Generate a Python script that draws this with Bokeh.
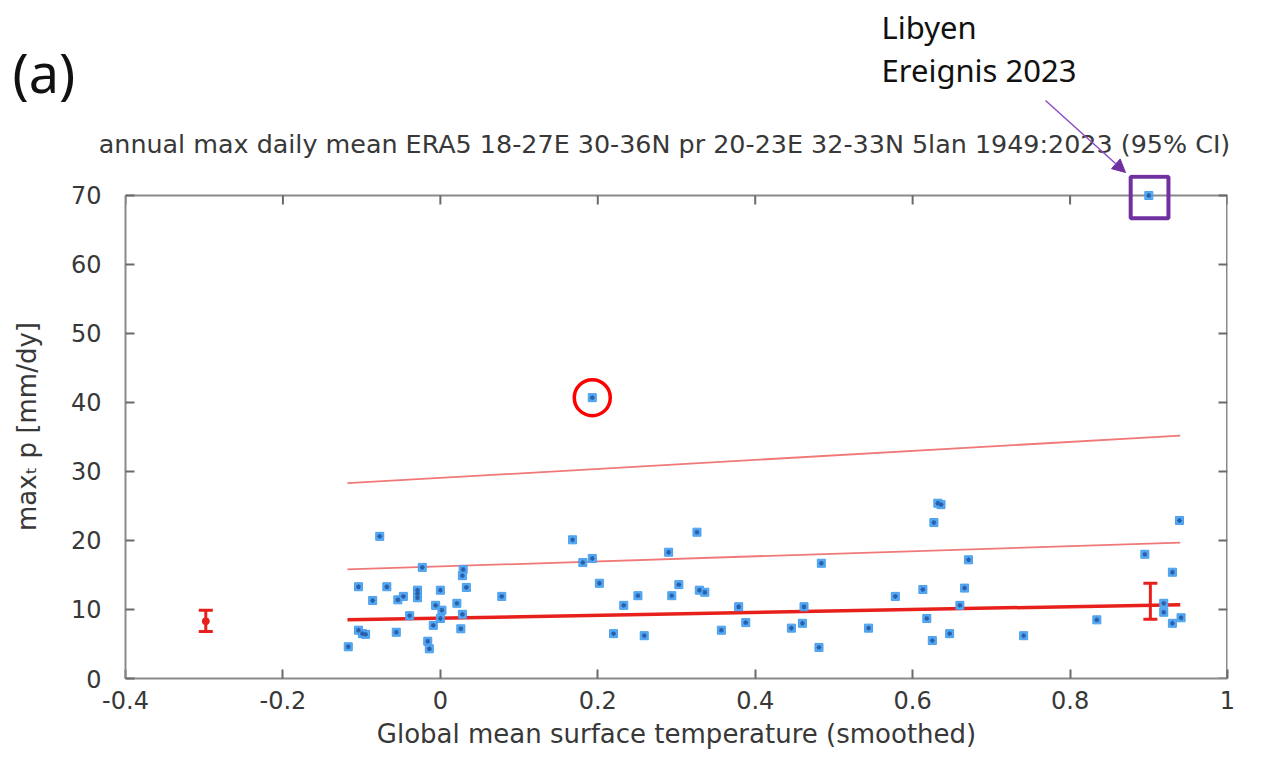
from bokeh.plotting import figure
from bokeh.layouts import column
from bokeh.models import (Label, Arrow, NormalHead, BoxAnnotation, Whisker, TeeHead,
                          ColumnDataSource, FixedTicker, Range1d)
from bokeh.embed import file_html
from bokeh.resources import INLINE

# ---- data ----
gmst = [-0.077, -0.023, 0.029, 0.028, -0.104, -0.068, -0.086, -0.054, -0.047, -0.029,
        -0.029, -0.029, 0.000, 0.033, 0.078, -0.006, 0.002, 0.021, 0.028, -0.039,
        0.000, -0.009, 0.026, -0.104, -0.099, -0.095, -0.056, -0.016, -0.014, -0.117,
        0.168, 0.326, 0.290, 0.181, 0.193, 0.202, 0.303, 0.294, 0.329, 0.336,
        0.251, 0.233, 0.379, 0.388, 0.220, 0.259, 0.357,
        0.632, 0.636, 0.627, 0.484, 0.671, 0.613, 0.666, 0.578, 0.660, 0.462,
        0.618, 0.460, 0.446, 0.544, 0.647, 0.625, 0.481,
        0.939, 0.895, 0.930, 0.919, 0.919, 0.941, 0.930, 0.834, 0.741,
        0.193, 0.900]
pr_max = [20.6, 16.1, 15.8, 14.9, 13.3, 13.3, 11.3, 11.4, 11.9, 12.8,
          12.3, 11.7, 12.8, 13.2, 11.9, 10.6, 9.9, 10.9, 9.3, 9.1,
          8.7, 7.7, 7.2, 7.0, 6.5, 6.4, 6.7, 5.4, 4.3, 4.6,
          20.1, 21.2, 18.3, 16.8, 17.4, 13.8, 13.6, 12.0, 12.8, 12.5,
          12.0, 10.6, 10.4, 8.1, 6.5, 6.2, 7.0,
          25.4, 25.2, 22.6, 16.7, 17.2, 12.9, 13.1, 11.9, 10.6, 10.4,
          8.7, 8.0, 7.3, 7.3, 6.5, 5.5, 4.5,
          22.9, 18.0, 15.4, 10.9, 9.6, 8.8, 8.0, 8.5, 6.2,
          40.7, 70.0]

fit_x = [-0.118, 0.940]
fit_mid = [8.5, 10.7]
fit_upper = [15.8, 19.7]
fit_top = [28.3, 35.2]

err_x = [-0.298, 0.902]
err_lo = [6.8, 8.6]
err_hi = [9.9, 13.8]
err_mid = [8.3, 10.7]

outlier_x = [0.193]
outlier_y = [40.7]

event_x = 0.900
event_y = 70.0

x_ticks = [-0.4, -0.2, 0, 0.2, 0.4, 0.6, 0.8, 1.0]
y_ticks = [0, 10, 20, 30, 40, 50, 60, 70]
x_tick_labels = ["-0.4", "-0.2", "0", "0.2", "0.4", "0.6", "0.8", "1"]

title_text = "annual max daily mean ERA5 18-27E 30-36N pr 20-23E 32-33N 5lan 1949:2023 (95% CI)"
xlabel = "Global mean surface temperature (smoothed)"
ylabel = "maxₜ p [mm/dy]"
panel_tag = "(a)"
event_line1 = "Libyen"
event_line2 = "Ereignis 2023"

FONT = "DejaVu Sans"
TXT = "#383838"
GRAY = "#8a8a8a"
TICK = "#6a6a6a"
RED = "#e8201c"
PINK = "#f07878"
PURPLE = "#7030a0"

W = 1245
HEAD_H = 174
MAIN_H = 757 - HEAD_H

# ---- header (annotation texts) ----
hdr = figure(width=W, height=HEAD_H, output_backend="svg", toolbar_location=None,
             x_range=Range1d(0, W), y_range=Range1d(HEAD_H, 0),
             x_axis_type=None, y_axis_type=None,
             min_border_left=0, min_border_right=0, min_border_top=0, min_border_bottom=0)
hdr.frame_align = False
hdr.grid.visible = False
hdr.outline_line_color = None
hdr.background_fill_color = "white"
hdr.border_fill_color = "white"

hdr.add_layout(Label(x=664, y=143, text=title_text, text_align="center",
                     text_baseline="middle", text_font=FONT, text_font_size="25.4px",
                     text_color=TXT))
hdr.add_layout(Label(x=12, y=71, text=panel_tag, text_align="left",
                     text_baseline="middle", text_font="Noto Sans", text_font_size="54px",
                     text_color="#111111"))
hdr.add_layout(Label(x=881, y=26, text=event_line1, text_align="left",
                     text_baseline="middle", text_font="Noto Sans", text_font_size="31px",
                     text_color="#111111"))
hdr.add_layout(Label(x=881, y=69, text=event_line2, text_align="left",
                     text_baseline="middle", text_font="Noto Sans", text_font_size="31px",
                     text_color="#111111"))
hdr.add_layout(Arrow(x_start=1045, y_start=100, x_end=1125, y_end=172,
                     line_color="#8a50c8", line_width=1.5,
                     end=NormalHead(size=13, fill_color=PURPLE, line_color=PURPLE)))

# ---- main chart ----
p = figure(width=W, height=MAIN_H, output_backend="svg", toolbar_location=None,
           x_range=Range1d(-0.4, 1.0), y_range=Range1d(0, 73.04),
           min_border_left=125, min_border_right=18, min_border_top=0,
           min_border_bottom=79)
p.frame_align = False
p.background_fill_color = "white"
p.border_fill_color = "white"
p.grid.visible = False
p.outline_line_color = None

for ax in (p.xaxis[0], p.yaxis[0]):
    ax.axis_line_color = GRAY
    ax.axis_line_width = 2
    ax.major_tick_in = 9
    ax.major_tick_out = 0
    ax.minor_tick_line_color = None
    ax.major_tick_line_color = TICK
    ax.major_tick_line_width = 2
    ax.major_label_text_font = FONT
    ax.major_label_text_font_size = "24px"
    ax.major_label_text_color = TXT
    ax.axis_label_text_font = FONT
    ax.axis_label_text_font_size = "26px"
    ax.axis_label_text_font_style = "normal"
    ax.axis_label_text_color = TXT

p.xaxis[0].ticker = FixedTicker(ticks=x_ticks)
p.yaxis[0].ticker = FixedTicker(ticks=y_ticks)
p.yaxis[0].bounds = (0, 70)
p.xaxis[0].major_label_overrides = dict(zip(x_ticks, x_tick_labels))
p.xaxis[0].axis_label = xlabel
p.yaxis[0].axis_label = ylabel
p.xaxis[0].major_label_standoff = 12
p.xaxis[0].axis_label_standoff = 7
p.yaxis[0].major_label_standoff = 24
p.yaxis[0].axis_label_standoff = 26

# top and right border of the gnuplot box, with mirrored ticks
p.segment(x0=[x_ticks[0]], y0=[y_ticks[-1]], x1=[x_ticks[-1]], y1=[y_ticks[-1]],
          line_color=GRAY, line_width=2)
p.segment(x0=[x_ticks[-1]], y0=[y_ticks[0]], x1=[x_ticks[-1]], y1=[y_ticks[-1]],
          line_color=GRAY, line_width=3)
p.segment(x0=x_ticks, y0=[y_ticks[-1]] * len(x_ticks), x1=x_ticks,
          y1=[y_ticks[-1] - 9 / 6.9] * len(x_ticks), line_color=TICK, line_width=2)
p.segment(x0=[x_ticks[-1]] * len(y_ticks), y0=y_ticks,
          x1=[x_ticks[-1] - 9 / 787] * len(y_ticks), y1=y_ticks,
          line_color=TICK, line_width=2)

# fit lines
p.line(fit_x, fit_top, line_color=PINK, line_width=1.8)
p.line(fit_x, fit_upper, line_color=PINK, line_width=1.8)
p.line(fit_x, fit_mid, line_color=RED, line_width=3.5)

# data points
src = ColumnDataSource(dict(x=gmst, y=pr_max))
p.scatter("x", "y", source=src, marker="square", size=8, fill_color="#55aaf4",
          line_color="#4a9eec", line_width=1)
p.scatter("x", "y", source=src, marker="asterisk", size=5, line_color="#2a5ea8",
          line_width=1.1)

# error bars
esrc = ColumnDataSource(dict(x=err_x, lo=err_lo, hi=err_hi, mid=err_mid))
p.add_layout(Whisker(source=esrc, base="x", lower="lo", upper="hi", dimension="height",
                     line_color=RED, line_width=3,
                     upper_head=TeeHead(size=14, line_color=RED, line_width=3),
                     lower_head=TeeHead(size=14, line_color=RED, line_width=3)))
p.scatter(err_x[:1], err_mid[:1], marker="circle", size=7, fill_color=RED,
          line_color=RED)

# red circle around the outlier
p.scatter(outlier_x, outlier_y, marker="circle", size=36, fill_color=None,
          line_color="#ff0000", line_width=3.5)

# purple box around the 2023 event
p.add_layout(BoxAnnotation(left=event_x - 0.023, right=event_x + 0.025,
                           bottom=event_y - 3.3, top=event_y + 2.7,
                           fill_color=None, line_color=PURPLE, line_alpha=1,
                           line_width=4))

layout = column(hdr, p, spacing=0)
open("out.html", "w").write(file_html(layout, INLINE))
